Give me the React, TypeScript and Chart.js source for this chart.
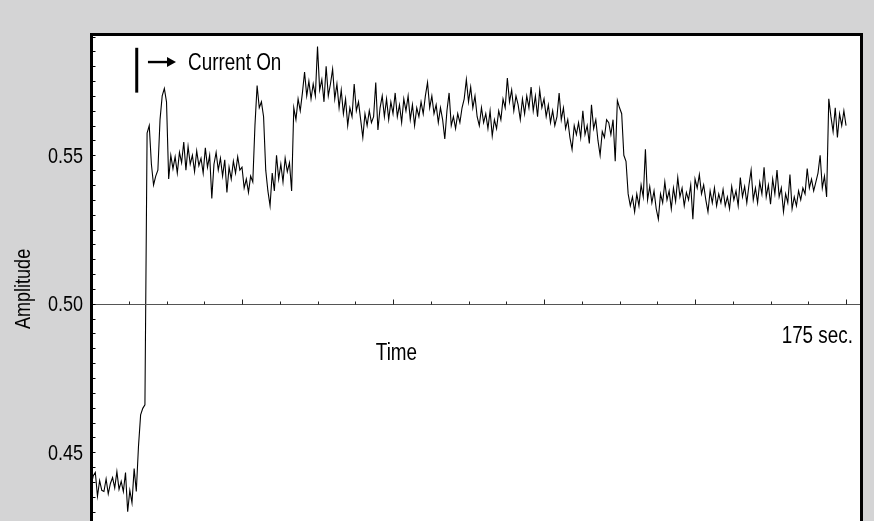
import React, { useEffect, useRef } from "react";
import { Chart, registerables } from "chart.js";

Chart.register(...registerables);

const SAMPLE_STEP_SEC = 0.5;

const AMP_000_035 = [
  0.4385, 0.4420, 0.4432, 0.4352, 0.4405, 0.4372, 0.4368, 0.4410, 0.4360, 0.4395,
  0.4415, 0.4380, 0.4435, 0.4375, 0.4402, 0.4368, 0.4432, 0.4300, 0.4372, 0.4330,
  0.4445, 0.4368, 0.4519, 0.4626, 0.4648, 0.4660, 0.5575, 0.5600, 0.5470, 0.5400,
  0.5430, 0.5450, 0.5620, 0.5700, 0.5725, 0.5680, 0.5420, 0.5500, 0.5455, 0.5495,
  0.5440, 0.5510, 0.5475, 0.5545, 0.5450, 0.5530, 0.5470, 0.5500, 0.5445, 0.5515,
  0.5465, 0.5490, 0.5440, 0.5525, 0.5460, 0.5500, 0.5355, 0.5470, 0.5510, 0.5450,
  0.5490, 0.5430, 0.5485, 0.5375, 0.5460, 0.5420, 0.5480, 0.5440, 0.5495, 0.5450,
];
const AMP_035_070 = [
  0.5460, 0.5390, 0.5420, 0.5375, 0.5430, 0.5410, 0.5600, 0.5735, 0.5660, 0.5680,
  0.5630, 0.5450, 0.5380, 0.5330, 0.5440, 0.5380, 0.5500, 0.5420, 0.5470, 0.5410,
  0.5490, 0.5445, 0.5475, 0.5380, 0.5660, 0.5620, 0.5690, 0.5650, 0.5710, 0.5780,
  0.5700, 0.5750, 0.5690, 0.5740, 0.5700, 0.5866, 0.5720, 0.5755, 0.5680, 0.5800,
  0.5700, 0.5740, 0.5790, 0.5690, 0.5740, 0.5660, 0.5720, 0.5640, 0.5690, 0.5600,
  0.5660, 0.5630, 0.5740, 0.5650, 0.5680, 0.5620, 0.5560, 0.5640, 0.5600, 0.5650,
  0.5610, 0.5630, 0.5745, 0.5585, 0.5660, 0.5700, 0.5630, 0.5690, 0.5620, 0.5680,
];
const AMP_070_105 = [
  0.5640, 0.5710, 0.5630, 0.5670, 0.5610, 0.5690, 0.5650, 0.5700, 0.5620, 0.5670,
  0.5600, 0.5660, 0.5630, 0.5680, 0.5640, 0.5700, 0.5745, 0.5660, 0.5700, 0.5640,
  0.5670, 0.5610, 0.5660, 0.5620, 0.5555, 0.5650, 0.5710, 0.5600, 0.5630, 0.5590,
  0.5640, 0.5610, 0.5660, 0.5690, 0.5755, 0.5680, 0.5730, 0.5660, 0.5700, 0.5630,
  0.5600, 0.5660, 0.5610, 0.5640, 0.5590, 0.5650, 0.5565, 0.5620, 0.5590, 0.5650,
  0.5620, 0.5690, 0.5660, 0.5760, 0.5680, 0.5720, 0.5650, 0.5700, 0.5670, 0.5620,
  0.5690, 0.5640, 0.5700, 0.5660, 0.5730, 0.5650, 0.5700, 0.5630, 0.5720, 0.5660,
];
const AMP_105_140 = [
  0.5690, 0.5630, 0.5670, 0.5610, 0.5650, 0.5600, 0.5630, 0.5710, 0.5620, 0.5660,
  0.5590, 0.5620, 0.5560, 0.5520, 0.5600, 0.5570, 0.5610, 0.5560, 0.5650, 0.5570,
  0.5600, 0.5540, 0.5670, 0.5590, 0.5620, 0.5550, 0.5500, 0.5580, 0.5560, 0.5620,
  0.5610, 0.5570, 0.5620, 0.5480, 0.5685, 0.5660, 0.5640, 0.5500, 0.5480, 0.5370,
  0.5330, 0.5360, 0.5310, 0.5370, 0.5330, 0.5400, 0.5360, 0.5520, 0.5350, 0.5395,
  0.5340, 0.5380, 0.5320, 0.5285, 0.5370, 0.5340, 0.5410, 0.5350, 0.5380, 0.5320,
  0.5390, 0.5345, 0.5425, 0.5360, 0.5390, 0.5330, 0.5375, 0.5350, 0.5400, 0.5285,
];
const AMP_140_175 = [
  0.5420, 0.5390, 0.5435, 0.5370, 0.5400, 0.5350, 0.5310, 0.5380, 0.5340, 0.5390,
  0.5330, 0.5370, 0.5340, 0.5385, 0.5330, 0.5360, 0.5320, 0.5395, 0.5350, 0.5380,
  0.5330, 0.5425, 0.5360, 0.5395, 0.5340, 0.5400, 0.5450, 0.5350, 0.5390, 0.5340,
  0.5410, 0.5370, 0.5460, 0.5360, 0.5400, 0.5335, 0.5420, 0.5370, 0.5450, 0.5360,
  0.5390, 0.5310, 0.5370, 0.5340, 0.5435, 0.5320, 0.5360, 0.5330, 0.5380, 0.5350,
  0.5390, 0.5370, 0.5455, 0.5390, 0.5420, 0.5380, 0.5410, 0.5440, 0.5500, 0.5390,
  0.5430, 0.5360, 0.5690, 0.5630, 0.5580, 0.5660, 0.5560, 0.5640, 0.5600, 0.5650,
  0.5600,
];

const AMPLITUDE = [...AMP_000_035, ...AMP_035_070, ...AMP_070_105, ...AMP_105_140, ...AMP_140_175];

// axes
const Y_MIN = 0.42;
const Y_MAX = 0.59;
const Y_MINOR_STEP = 0.005;
const Y_TICK_VALUES = [0.45, 0.5, 0.55];
const Y_TICK_LABELS = ["0.45", "0.50", "0.55"];
const X_MIN = 0;
const X_MAX = 178.7;
const X_END = 175;
const X_MINOR_STEP = 8.75;
const X_MAJOR_EVERY = 4;
const X_AXIS_VALUE = 0.5;

// texts
const Y_TITLE = "Amplitude";
const X_TITLE = "Time";
const X_END_LABEL = "175 sec.";
const NOTE_TEXT = "Current On";
const NOTE_MARK_SEC = 10.6;

const BG = "#d4d4d5";
const FONT = "'Liberation Sans', Arial, sans-serif";
const NARROW = 0.82;

function narrowText(ctx: CanvasRenderingContext2D, text: string, x: number, y: number, align: CanvasTextAlign, size: number, rotate = 0) {
  ctx.save();
  ctx.translate(x, y);
  if (rotate) ctx.rotate(rotate);
  ctx.scale(NARROW, 1);
  ctx.font = `${size}px ${FONT}`;
  ctx.textAlign = align;
  ctx.textBaseline = "alphabetic";
  ctx.fillStyle = "#000";
  ctx.fillText(text, 0, 0);
  ctx.restore();
}

const chromePlugin = {
  id: "chrome",
  beforeDraw(chart: any) {
    const { ctx, width, height, chartArea: ca } = chart;
    ctx.save();
    ctx.fillStyle = BG;
    ctx.fillRect(0, 0, width, height);
    ctx.fillStyle = "#ffffff";
    ctx.fillRect(ca.left, ca.top - 2, ca.right - ca.left, height);
    ctx.restore();
  },
  afterDatasetsDraw(chart: any) {
    const { ctx, height, chartArea: ca } = chart;
    const xs = chart.scales.x;
    const ys = chart.scales.y;
    ctx.save();

    // horizontal axis at 0.50
    const yAxis = Math.round(ys.getPixelForValue(X_AXIS_VALUE)) + 0.5;
    ctx.strokeStyle = "#555";
    ctx.lineWidth = 1.2;
    ctx.beginPath();
    ctx.moveTo(ca.left, yAxis);
    ctx.lineTo(ca.right, yAxis);
    ctx.stroke();
    ctx.strokeStyle = "#222";
    ctx.lineWidth = 1;
    const nX = Math.round(X_END / X_MINOR_STEP);
    for (let k = 1; k <= nX; k++) {
      const px = Math.round(xs.getPixelForValue(k * X_MINOR_STEP)) + 0.5;
      const len = k % X_MAJOR_EVERY === 0 ? 5 : 3;
      ctx.beginPath();
      ctx.moveTo(px, yAxis);
      ctx.lineTo(px, yAxis - len);
      ctx.stroke();
    }

    // left minor ticks (inside)
    ctx.strokeStyle = "#000";
    const nY = Math.round((Y_MAX - Y_MIN) / Y_MINOR_STEP);
    for (let k = 0; k <= nY; k++) {
      const py = Math.round(ys.getPixelForValue(Y_MIN + k * Y_MINOR_STEP)) + 0.5;
      ctx.beginPath();
      ctx.moveTo(ca.left, py);
      ctx.lineTo(ca.left + 4.5, py);
      ctx.stroke();
    }

    // frame
    ctx.strokeStyle = "#000";
    ctx.lineWidth = 3;
    ctx.beginPath();
    ctx.moveTo(ca.left + 0.5, height + 10);
    ctx.lineTo(ca.left + 0.5, ca.top - 2);
    ctx.lineTo(ca.right - 0.5, ca.top - 2);
    ctx.lineTo(ca.right - 0.5, height + 10);
    ctx.stroke();

    // y tick labels
    Y_TICK_VALUES.forEach((v, i) => {
      narrowText(ctx, Y_TICK_LABELS[i], ca.left - 8, ys.getPixelForValue(v) + 7.5, "right", 22);
    });

    // axis texts
    narrowText(ctx, X_TITLE, xs.getPixelForValue(70.8), ys.getPixelForValue(0.4811), "center", 23);
    narrowText(ctx, X_END_LABEL, xs.getPixelForValue(176.6), ys.getPixelForValue(0.4867), "right", 23);
    narrowText(ctx, Y_TITLE, ca.left - 61, ys.getPixelForValue(0.505), "center", 22, -Math.PI / 2);

    // annotation
    ctx.fillStyle = "#000";
    const mx = xs.getPixelForValue(NOTE_MARK_SEC);
    ctx.lineWidth = 3;
    ctx.beginPath();
    ctx.moveTo(mx, ys.getPixelForValue(0.5862));
    ctx.lineTo(mx, ys.getPixelForValue(0.5711));
    ctx.stroke();
    const ay = ys.getPixelForValue(0.5814);
    const ax0 = xs.getPixelForValue(13.2);
    const ax1 = xs.getPixelForValue(19.7);
    ctx.lineWidth = 2.4;
    ctx.beginPath();
    ctx.moveTo(ax0, ay);
    ctx.lineTo(ax1 - 6, ay);
    ctx.stroke();
    ctx.beginPath();
    ctx.moveTo(ax1, ay);
    ctx.lineTo(ax1 - 9, ay - 5);
    ctx.lineTo(ax1 - 9, ay + 5);
    ctx.closePath();
    ctx.fill();
    narrowText(ctx, NOTE_TEXT, xs.getPixelForValue(22.5), ys.getPixelForValue(0.5787), "left", 23);

    ctx.restore();
  },
};

export default function App() {
  const ref = useRef<HTMLCanvasElement | null>(null);
  useEffect(() => {
    const canvas = ref.current;
    if (!canvas) return;
    const points = AMPLITUDE.map((v, i) => ({ x: i * SAMPLE_STEP_SEC, y: v }));
    const chart = new Chart(canvas, {
      type: "line",
      data: {
        datasets: [
          {
            data: points,
            borderColor: "#000",
            borderWidth: 1.1,
            pointRadius: 0,
            tension: 0,
            fill: false,
          },
        ],
      },
      options: {
        animation: false,
        responsive: false,
        devicePixelRatio: 1,
        events: [],
        layout: { padding: { top: 36.5, right: 12, bottom: 18.6, left: 0 } },
        plugins: { legend: { display: false }, tooltip: { enabled: false } },
        scales: {
          x: { type: "linear", min: X_MIN, max: X_MAX, display: false },
          y: {
            type: "linear",
            min: Y_MIN,
            max: Y_MAX,
            afterFit: (s: any) => {
              s.width = 91;
            },
            grid: { display: false, drawTicks: false },
            border: { display: false },
            ticks: { display: false },
          },
        },
      },
      plugins: [chromePlugin],
    } as any);
    return () => chart.destroy();
  }, []);
  return (
    <div style={{ position: "fixed", left: 0, top: 0, width: 874, height: 560, overflow: "hidden" }}>
      <canvas ref={ref} width={874} height={560} style={{ width: 874, height: 560, display: "block" }} />
    </div>
  );
}
